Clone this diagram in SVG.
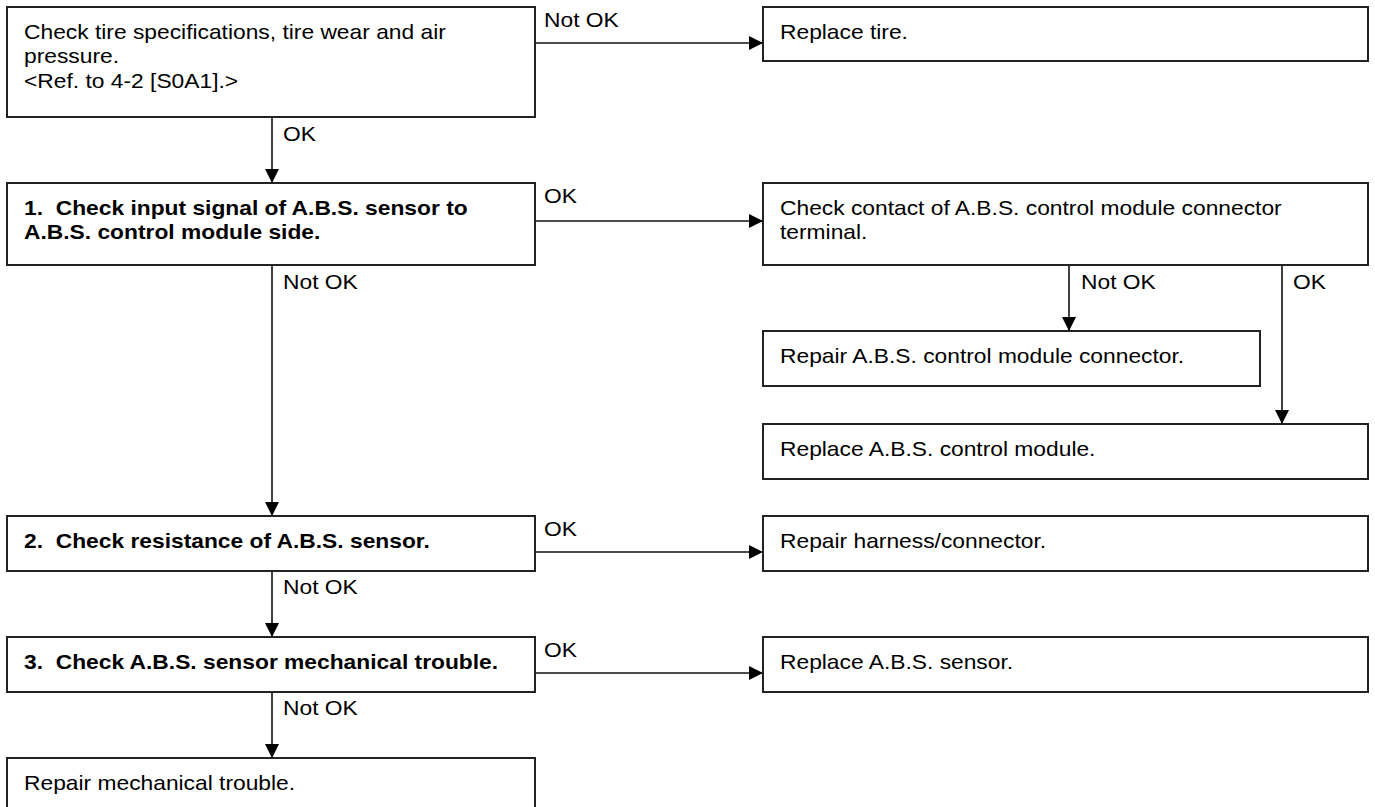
<svg xmlns="http://www.w3.org/2000/svg" width="1375" height="807" viewBox="0 0 1375 807">
<defs>
<marker id="arr" markerUnits="userSpaceOnUse" markerWidth="14" markerHeight="14" refX="14" refY="7" orient="auto">
<path d="M0,0 L14,7 L0,14 Z" fill="#000"/>
</marker>
<style>
.box{fill:#fff;stroke:#222;stroke-width:2}
.t{font-family:"Liberation Sans",Arial,sans-serif;font-size:20px;fill:#000;white-space:pre}
.b{font-weight:bold}
.c{fill:none;stroke:#111;stroke-width:1.6;marker-end:url(#arr)}
</style>
</defs>
<rect width="1375" height="807" fill="#fff"/>

<g id="connectors">
<line class="c" x1="535" y1="43" x2="763" y2="43"/>
<line class="c" x1="272" y1="117" x2="272" y2="183"/>
<line class="c" x1="535" y1="221" x2="763" y2="221"/>
<line class="c" x1="272" y1="265" x2="272" y2="516"/>
<line class="c" x1="1069" y1="265" x2="1069" y2="331"/>
<line class="c" x1="1282" y1="265" x2="1282" y2="424"/>
<line class="c" x1="535" y1="552" x2="763" y2="552"/>
<line class="c" x1="272" y1="571" x2="272" y2="637"/>
<line class="c" x1="535" y1="673" x2="763" y2="673"/>
<line class="c" x1="272" y1="692" x2="272" y2="758"/>
<text class="t" transform="translate(544,27) scale(1.14,1)">Not OK</text>
<text class="t" transform="translate(283,141) scale(1.14,1)">OK</text>
<text class="t" transform="translate(544,203) scale(1.14,1)">OK</text>
<text class="t" transform="translate(283,289) scale(1.14,1)">Not OK</text>
<text class="t" transform="translate(1081,289) scale(1.14,1)">Not OK</text>
<text class="t" transform="translate(1293,289) scale(1.14,1)">OK</text>
<text class="t" transform="translate(544,536) scale(1.14,1)">OK</text>
<text class="t" transform="translate(283,594) scale(1.14,1)">Not OK</text>
<text class="t" transform="translate(544,657) scale(1.14,1)">OK</text>
<text class="t" transform="translate(283,715) scale(1.14,1)">Not OK</text>
</g>

<g id="tire-check">
<rect class="box" x="7" y="7" width="528" height="110"/>
<text class="t" transform="translate(24,39) scale(1.14,1)"><tspan x="0" y="0">Check tire specifications, tire wear and air</tspan><tspan x="0" y="24.5">pressure.</tspan><tspan x="0" y="49">&lt;Ref. to 4-2 [S0A1].&gt;</tspan></text>
</g>

<g id="replace-tire">
<rect class="box" x="763" y="7" width="605" height="54"/>
<text class="t" transform="translate(780,39) scale(1.14,1)">Replace tire.</text>
</g>

<g id="step1">
<rect class="box" x="7" y="183" width="528" height="82"/>
<text class="t b" transform="translate(24,215) scale(1.14,1)"><tspan x="0" y="0">1.  Check input signal of A.B.S. sensor to</tspan><tspan x="0" y="24.5">A.B.S. control module side.</tspan></text>
</g>

<g id="check-contact">
<rect class="box" x="763" y="183" width="605" height="82"/>
<text class="t" transform="translate(780,215) scale(1.14,1)"><tspan x="0" y="0">Check contact of A.B.S. control module connector</tspan><tspan x="0" y="24.5">terminal.</tspan></text>
</g>

<g id="repair-module-connector">
<rect class="box" x="763" y="331" width="497" height="55"/>
<text class="t" transform="translate(780,363) scale(1.14,1)">Repair A.B.S. control module connector.</text>
</g>

<g id="replace-module">
<rect class="box" x="763" y="424" width="605" height="55"/>
<text class="t" transform="translate(780,456) scale(1.14,1)">Replace A.B.S. control module.</text>
</g>

<g id="step2">
<rect class="box" x="7" y="516" width="528" height="55"/>
<text class="t b" transform="translate(24,548) scale(1.14,1)">2.  Check resistance of A.B.S. sensor.</text>
</g>

<g id="repair-harness">
<rect class="box" x="763" y="516" width="605" height="55"/>
<text class="t" transform="translate(780,548) scale(1.14,1)">Repair harness/connector.</text>
</g>

<g id="step3">
<rect class="box" x="7" y="637" width="528" height="55"/>
<text class="t b" transform="translate(24,669) scale(1.14,1)">3.  Check A.B.S. sensor mechanical trouble.</text>
</g>

<g id="replace-sensor">
<rect class="box" x="763" y="637" width="605" height="55"/>
<text class="t" transform="translate(780,669) scale(1.14,1)">Replace A.B.S. sensor.</text>
</g>

<g id="repair-mechanical">
<rect class="box" x="7" y="758" width="528" height="60"/>
<text class="t" transform="translate(24,790) scale(1.14,1)">Repair mechanical trouble.</text>
</g>
</svg>
